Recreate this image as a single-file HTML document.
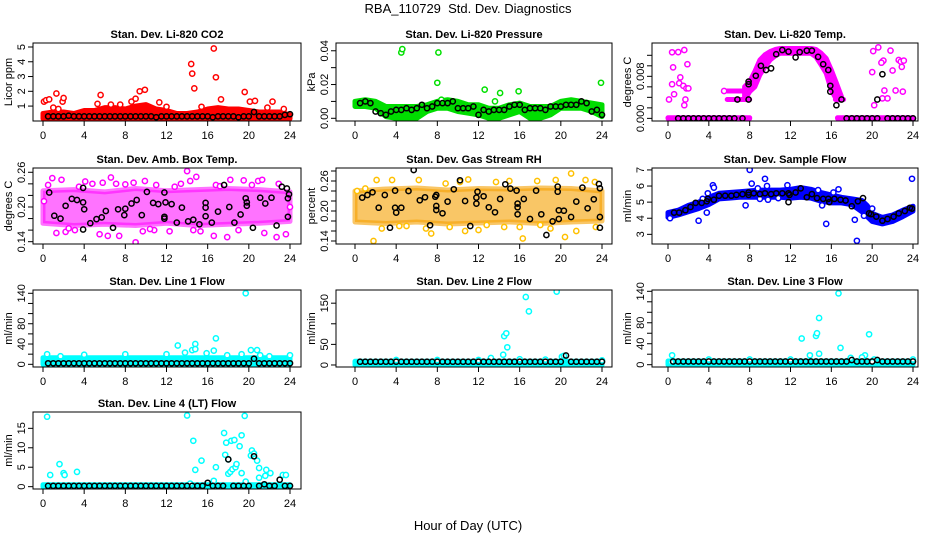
<!DOCTYPE html>
<html><head><meta charset="utf-8">
<style>
html,body{margin:0;padding:0;background:#fff;}
svg{display:block;font-family:"Liberation Sans",sans-serif;}
</style></head>
<body>
<svg id="chart" width="936" height="540" viewBox="0 0 936 540" xmlns="http://www.w3.org/2000/svg">
<rect x="0" y="0" width="936" height="540" fill="#fff"/>
<text x="468" y="13" text-anchor="middle" font-size="13" style="white-space:pre">RBA_110729  Std. Dev. Diagnostics</text>
<text x="468" y="530" text-anchor="middle" font-size="13">Hour of Day (UTC)</text>
</svg>
<script>
// shared half-hour categories for black series
const BH = [0.5,1,1.5,2,2.5,3,3.5,4,4.5,5,5.5,6,6.5,7,7.5,8,8.5,9,9.5,10,10.5,11,11.5,12,12.5,13,13.5,14,14.5,15,15.5,16,16.5,17,17.5,18,18.5,19,19.5,20,20.5,21,21.5,22,22.5,23,23.5,24];
const xTicks = [0,4,8,12,16,20,24];

// P1 CO2
const p1BandH = [0,1,2,3,4,5,6,7,8,9,10,11,12,13,14,15,16,17,18,19,20,21,22,23,24];
const p1BandLo = [0.15,0.15,0.15,0.15,0.15,0.15,0.15,0.15,0.15,0.15,0.15,0.15,0.15,0.15,0.15,0.15,0.15,0.15,0.15,0.15,0.15,0.15,0.15,0.15,0.15];
const p1BandHi = [0.5,0.6,0.6,0.5,0.7,0.7,0.9,0.9,0.8,1.0,1.1,0.8,0.7,0.5,0.5,0.6,0.8,0.9,0.8,0.8,0.7,0.6,0.6,0.6,0.4];
const p1OutH = [0.1,0.3,0.6,1.0,1.3,1.5,1.9,2.0,5.6,6.6,8.6,9.0,9.4,9.9,11.3,12.0,14.4,14.5,14.7,15.4,16.6,16.8,17.3,19.6,20.1,20.6,22.3,21.8,23.4,5.3,7.5];
const p1OutV = [1.3,1.4,1.45,0.9,1.85,0.8,1.3,1.55,1.75,1.1,1.3,1.5,2.0,2.1,1.25,0.95,3.85,3.2,2.2,0.95,4.9,2.95,1.45,1.95,1.3,1.35,1.3,0.9,0.8,1.15,1.1];
const p1BlkV = [0.3,0.3,0.3,0.3,0.35,0.3,0.3,0.3,0.3,0.3,0.3,0.3,0.3,0.3,0.3,0.3,0.3,0.3,0.3,0.3,0.3,0.25,0.3,0.3,0.3,0.3,0.3,0.3,0.3,0.3,0.3,0.3,0.25,0.3,0.3,0.3,0.3,0.25,0.3,0.3,0.6,0.3,0.3,0.3,0.3,0.3,0.4,0.45];

// P2 pressure
const p2BandH = [0,1,2,3,4,5,6,7,8,9,10,11,12,13,14,15,16,17,18,19,20,21,22,23,24];
const p2BandLo = [0.007,0.007,0.006,0.001,0,0,0,0.004,0.006,0.006,0.004,0.003,0.002,0,0,0.002,0.004,0,0,0.002,0.006,0.006,0.006,0.004,0.001];
const p2BandHi = [0.010,0.011,0.010,0.007,0.007,0.007,0.007,0.008,0.010,0.011,0.010,0.008,0.008,0.006,0.006,0.008,0.009,0.007,0.007,0.007,0.010,0.011,0.010,0.009,0.008];
const p2OutH = [4.5,4.6,8.1,8.0,12.6,13.6,14.1,15.9,23.9,8.4];
const p2OutV = [0.039,0.041,0.039,0.021,0.017,0.010,0.015,0.016,0.021,0.011];
const p2BlkV = [0.009,0.010,0.009,0.004,0.003,0.002,0.004,0.005,0.005,0.006,0.005,0.006,0.008,0.006,0.007,0.009,0.009,0.009,0.010,0.006,0.006,0.006,0.007,0.002,0.005,0.004,0.005,0.005,0.005,0.007,0.008,0.008,0.005,0.006,0.006,0.006,0.005,0.007,0.007,0.007,0.008,0.008,0.008,0.010,0.009,0.004,0.005,0.002];

// P3 temp
const p3ArchH = [7.5,8,8.5,9,9.5,10,10.5,11,12,13,14,14.5,15,15.5,16,16.5,17];
const p3ArchLo = [0.0036,0.0051,0.0060,0.0083,0.0098,0.0111,0.0119,0.0124,0.0124,0.0124,0.0124,0.0117,0.0102,0.0086,0.0054,0.0036,0.0035];
const p3ArchHi = [0.0060,0.0070,0.0089,0.0111,0.0121,0.0127,0.0131,0.0133,0.0133,0.0133,0.0133,0.0131,0.0124,0.0114,0.0092,0.0067,0.0041];
const p3ZeroAH = [0,8], p3ZeroALo = [0,0], p3ZeroAHi = [0.0001,0.0001];
const p3ZeroBH = [16.6,24], p3ZeroBLo = [0,0], p3ZeroBHi = [0.0001,0.0001];
const p3FlatAH = [5.8,8], p3FlatALo = [0.0036,0.0036], p3FlatAHi = [0.0036,0.0036];
const p3FlatBH = [16.4,17.2], p3FlatBLo = [0.0036,0.0036], p3FlatBHi = [0.0036,0.0036];
const p3FlatCH = [5.8,7.6], p3FlatCLo = [0.0052,0.0052], p3FlatCHi = [0.0052,0.0052];
const p3OutH = [0.4,0.5,0.4,0.6,0.1,1.0,1.2,1.1,1.6,1.5,1.8,1.9,2.0,1.7,1.6,5.5,20.2,20.0,20.1,20.6,21.0,21.1,21.2,21.5,21.8,22.0,22.3,22.6,22.8,23.1,23.0,21.0,20.9,22.9];
const p3OutV = [0.01257,0.0097,0.0065,0.0046,0.0036,0.0126,0.0078,0.0067,0.0130,0.0062,0.0057,0.0103,0.0057,0.0036,0.0025,0.0052,0.0025,0.0088,0.0128,0.0135,0.0108,0.0110,0.0053,0.0038,0.0129,0.0091,0.0053,0.0111,0.0108,0.0110,0.0051,0.0038,0.0106,0.0098];
const p3BlkH = [1,1.5,2,2.5,3,3.5,4,4.5,5,5.5,6,6.5,7.3,17.5,18,18.5,19,19.5,20,20.5,21.5,22,22.5,23,23.5,24,6.8,7.9,7.9,7.9,8.6,9.1,9.6,10.1,10.6,11.2,11.8,12.5,12.9,13.6,14.1,14.7,15.2,15.7,15.9,15.9,16.5,17.0,21.0,20.5];
const p3BlkV = [0,0,0,0,0,0,0,0,0,0,0,0,0,0,0,0,0,0,0,0,0,0,0,0,0,0,0.0036,0.0036,0.0070,0.0065,0.0081,0.0100,0.0092,0.0095,0.0122,0.0130,0.0127,0.0116,0.0126,0.0129,0.0129,0.0117,0.0103,0.0092,0.0062,0.0051,0.0025,0.0036,0.0084,0.0036];

// P4 amb box temp
const p4BandH = [0,3,6,9,12,15,18,21,24];
const p4BandLo = [0.172,0.168,0.170,0.168,0.172,0.168,0.170,0.172,0.175];
const p4BandHi = [0.228,0.230,0.226,0.232,0.228,0.230,0.232,0.230,0.226];
const p4OutH = [0.9,1.8,4.1,6.6,8.0,9.9,14.0,14.3,14.9,18.2,19.5,20.9,21.3,5.8,1.3,2.2,3.1,5.5,6.3,7.4,9.0,9.7,10.8,12.3,14.6,16.6,17.9,21.5,22.7,23.6,0.5,3.5,12.8,16.8,22.9,7.1,11.0,2.5,15.3,19.0,0.1,24.0,4.8,8.8,13.4,17.2,20.3,10.4];
const p4OutV = [0.250,0.247,0.244,0.251,0.239,0.245,0.262,0.245,0.252,0.247,0.246,0.245,0.247,0.242,0.155,0.157,0.160,0.153,0.150,0.150,0.139,0.158,0.160,0.158,0.160,0.150,0.148,0.155,0.148,0.153,0.238,0.235,0.235,0.238,0.240,0.240,0.238,0.163,0.158,0.160,0.210,0.200,0.240,0.242,0.240,0.236,0.238,0.162];
const p4BlkH = [0.6,1.1,1.7,2.2,2.8,3.3,3.9,3.9,3.9,4.0,4.6,5.2,5.7,6.1,6.8,7.3,7.9,8.0,8.6,9.1,9.6,10.1,10.7,11.2,11.8,11.8,11.8,11.9,12.5,13.0,13.5,14.1,14.6,15.2,15.8,15.8,15.8,16.4,17.0,17.6,18.1,18.6,19.2,19.7,19.8,19.8,20.4,21.1,21.6,22.2,22.7,23.2,23.7,23.8,23.9,23.8];
const p4BlkV = [0.225,0.185,0.180,0.202,0.214,0.212,0.233,0.208,0.161,0.196,0.172,0.179,0.182,0.193,0.164,0.196,0.186,0.197,0.206,0.212,0.186,0.226,0.207,0.205,0.225,0.180,0.183,0.208,0.205,0.173,0.199,0.175,0.178,0.170,0.207,0.199,0.184,0.173,0.192,0.238,0.200,0.173,0.187,0.215,0.202,0.208,0.164,0.216,0.206,0.216,0.168,0.235,0.232,0.215,0.222,0.183];

// P5 gas stream RH
const p5BandH = [0,3,6,9,12,15,18,21,24];
const p5BandLo = [0.178,0.175,0.178,0.174,0.176,0.178,0.175,0.178,0.180];
const p5BandHi = [0.240,0.244,0.246,0.242,0.245,0.244,0.246,0.245,0.240];
const p5OutH = [1.8,2.1,3.6,7.4,10.7,11.0,12.0,13.7,15.0,16.3,17.7,19.5,20.4,21.0,22.4,23.3,21.5,8.8,0.2,1.0,4.3,6.2,9.2,14.5,18.0,23.4,5.0,12.8,16.0,2.6,6.9,10.2,19.0];
const p5OutV = [0.140,0.262,0.262,0.155,0.160,0.263,0.162,0.258,0.260,0.145,0.260,0.262,0.148,0.275,0.262,0.258,0.160,0.255,0.240,0.245,0.170,0.262,0.168,0.168,0.172,0.168,0.170,0.172,0.168,0.165,0.165,0.258,0.165];
const p5BlkH = [0.7,1.2,1.7,2.3,2.9,3.4,3.9,3.9,4.0,4.5,5.2,5.7,6.3,6.8,7.3,7.8,7.9,7.9,7.9,8.5,9.0,9.6,10.2,10.7,11.2,11.8,11.8,11.9,12.5,13.0,13.6,14.1,14.6,15.1,15.7,15.8,15.8,15.8,16.4,17.0,17.6,18.1,18.6,19.2,19.7,19.7,19.8,19.8,20.3,21.0,21.5,22.1,22.6,23.2,23.7,23.8,23.8,23.8];
const p5BlkV = [0.2267,0.232,0.2373,0.2067,0.232,0.1667,0.2407,0.2067,0.1967,0.2067,0.24,0.282,0.2213,0.2273,0.1713,0.2287,0.232,0.21,0.202,0.1953,0.2187,0.2433,0.2613,0.22,0.17,0.2267,0.2147,0.2387,0.2293,0.2073,0.1973,0.224,0.2533,0.2447,0.2407,0.2147,0.2073,0.1933,0.224,0.184,0.2407,0.1933,0.152,0.1793,0.2487,0.2387,0.2013,0.184,0.2007,0.188,0.2187,0.2467,0.2053,0.2233,0.254,0.2453,0.188,0.1667];

// P6 sample flow
const p6BandH = [0,1,2,3,4,5,6,7,8,9,10,11,12,13,14,15,16,17,18,19,19.5,20,21,22,23,24];
const p6BandLo = [4.05,4.2,4.4,4.6,4.85,5.2,5.25,5.3,5.3,5.3,5.3,5.3,5.25,5.3,5.25,5.05,4.95,4.95,4.85,4.4,4.1,3.8,3.65,3.8,4.1,4.45];
const p6BandHi = [4.35,4.5,4.8,5.0,5.3,5.55,5.6,5.65,5.7,5.75,5.75,5.75,5.8,5.9,5.8,5.6,5.45,5.3,5.2,5.1,4.8,4.3,4.05,4.2,4.5,4.75];
const p6OutH = [0.2,3.0,3.8,3.9,4.4,4.5,3.4,7.6,8.0,8.2,8.8,9.5,9.7,9.8,9.0,11.7,14.7,15.1,15.5,16.2,16.7,18.3,18.5,19.2,20.0,23.9,10.8];
const p6OutV = [4.0,3.85,4.35,5.55,6.05,5.9,5.2,4.8,7.0,6.15,5.85,6.45,6.0,5.15,5.2,6.05,5.75,4.8,3.65,5.6,5.8,3.9,2.6,4.15,4.6,6.45,5.25];
const p6BlkH = [0.6,1.1,1.7,2.2,2.7,3.3,3.8,3.9,4.5,5.0,5.6,6.2,6.7,7.3,7.9,7.9,8.4,9.0,9.5,10.1,10.6,11.2,11.8,11.8,11.9,12.5,13.0,13.6,14.1,14.6,15.2,15.7,15.8,16.3,16.9,17.4,18.0,18.6,19.1,19.7,19.9,20.4,21.0,21.5,22.1,22.6,23.2,23.7,23.9];
const p6BlkV = [4.35,4.35,4.5,4.7,4.95,4.95,5.05,5.2,5.15,5.4,5.4,5.4,5.45,5.5,5.6,5.45,5.55,5.5,5.55,5.5,5.55,5.55,5.55,5.0,5.45,5.6,5.85,5.3,5.5,5.25,5.2,5.2,5.0,5.2,5.15,5.1,4.75,5.05,5.25,4.3,4.25,4.1,3.85,3.95,4.1,4.3,4.45,4.65,4.6];

// P7 line 1
const p7BandH = [0,24], p7BandLo = [0,0], p7BandHi = [13,13];
const p7OutH = [0.4,1.7,4.0,8.0,12.0,13.1,13.8,14.5,14.8,14.8,15.9,16.6,16.8,17.9,19.7,20.2,20.8,21.1,22.0,24.0,19.3];
const p7OutV = [20,16,19,20,20,37,23,28,40,30,22,27,51,18,140,28,28,18,16,18,20];
const p7BlkV = [2,2,2,2,2,2,2,2,2,2,2,2,2,2,2,2,2,2,2,2,2,2,2,2,2,2,2,2,2,2,2,2,2,2,2,2,2,2,2,2,11,2,2,2,2,2,2,2];

// P8 line 2
const p8BandH = [0,24], p8BandLo = [0,0], p8BandHi = [9,9];
const p8OutH = [14.5,14.7,14.8,14.4,16.6,16.9,19.6,13.2,18.5,20.1,20.3,12.0,4.0,8.0,24.0,16.0];
const p8OutV = [70,77,43,25,165,130,178,17,13,20,22,12,12,12,11,14];
const p8BlkV = [8,8,8,8,8,8,8,8,8,8,8,8,8,8,8,8,8,8,8,8,8,8,8,8,8,8,8,8,8,8,8,8,8,8,8,8,8,8,8,8,23,8,8,8,8,8,8,8];

// P9 line 3
const p9BandH = [0,24], p9BandLo = [0,0], p9BandHi = [7,7];
const p9OutH = [0.3,0.4,4.0,8.0,12.0,13.1,13.9,14.5,14.6,14.8,14.8,16.7,16.9,17.9,19.3,19.7,19.0,20.2,24.0,20.0];
const p9OutV = [5,18,10,10,10,50,18,55,60,21,89,136,32,13,18,58,14,10,10,5];
const p9BlkV = [6,6,6,6,6,6,6,6,6,6,6,6,6,6,6,6,6,6,6,6,6,6,6,6,6,6,6,6,6,6,6,6,6,6,6,9,6,6,6,6,9,6,6,6,6,6,6,6];

// P10 line 4
const p10BandH = [0,24], p10BandLo = [0,0], p10BandHi = [0.5,0.5];
const p10OutH = [0.4,0.7,1.6,2.0,2.1,3.3,14.0,14.6,14.8,15.4,16.8,16.6,17.6,17.7,17.8,18.0,18.2,18.3,18.4,18.6,18.7,18.8,19.1,19.3,19.3,19.6,19.7,20.2,20.3,20.5,20.8,21.0,21.0,21.6,21.7,22.1,23.3,23.6,14.3,18.0];
const p10OutV = [18,3,5.8,3.5,3,3.8,18.3,11.8,4.3,6.7,5,1.5,13.8,8.2,11.3,3.3,3.8,11.8,4.5,12,5,5.8,10.4,13.2,3.5,18.2,1.3,8,9.3,8.5,6.7,4.8,2.3,2.8,4.3,3.5,3,3,0.8,7];
const p10BlkV = [0.2,0.2,0.2,0.2,0.2,0.2,0.2,0.2,0.2,0.2,0.2,0.2,0.2,0.2,0.2,0.2,0.2,0.2,0.2,0.2,0.2,0.2,0.2,0.2,0.2,0.2,0.2,0.2,0.2,0.2,0.2,1,0.2,0.2,0.2,7,0.2,0.2,0.2,0.2,7.8,0.2,0.6,0.2,0.2,1.8,0.2,0.2];

const cols = [{l:33,r:301,x0:43,x24:290},{l:336,r:612,x0:355,x24:602},{l:652,r:918,x0:668,x24:913}];
const rows = [{t:43,b:121},{t:168,b:244},{t:290,b:367},{t:412,b:489}];

const panels = [
 {name:'co2',title:'Stan. Dev. Li-820 CO2',ylab:'Licor ppm',c:0,r:0,ymin:-0.01,ymax:5.27,ticks:[1,2,3,4,5],labels:['1','2','3','4','5'],col:'#ff0000',band:'#ff0000',op:1,
  bands:[[p1BandH,p1BandLo,p1BandHi]],outH:p1OutH,outV:p1OutV,blkH:BH,blkV:p1BlkV},
 {name:'pressure',title:'Stan. Dev. Li-820 Pressure',ylab:'kPa',c:1,r:0,ymin:-0.0016,ymax:0.0446,ticks:[0,0.01,0.02,0.03,0.04],labels:['0.00','','0.02','','0.04'],col:'#00e000',band:'#00dd00',op:1,
  bands:[[p2BandH,p2BandLo,p2BandHi]],outH:p2OutH,outV:p2OutV,blkH:BH,blkV:p2BlkV},
 {name:'temp',title:'Stan. Dev. Li-820 Temp.',ylab:'degrees C',c:2,r:0,ymin:-0.0005,ymax:0.01434,ticks:[0,0.002,0.004,0.006,0.008,0.010,0.012],labels:['0.000','','','','0.008','',''],col:'#ff00ff',band:'#ff00ff',op:1,
  bands:[[p3ArchH,p3ArchLo,p3ArchHi],[p3ZeroAH,p3ZeroALo,p3ZeroAHi],[p3ZeroBH,p3ZeroBLo,p3ZeroBHi],[p3FlatAH,p3FlatALo,p3FlatAHi],[p3FlatBH,p3FlatBLo,p3FlatBHi],[p3FlatCH,p3FlatCLo,p3FlatCHi]],outH:p3OutH,outV:p3OutV,blkH:p3BlkH,blkV:p3BlkV},
 {name:'amb-box-temp',title:'Stan. Dev. Amb. Box Temp.',ylab:'degrees C',c:0,r:1,ymin:0.136,ymax:0.2674,ticks:[0.14,0.16,0.18,0.20,0.22,0.24,0.26],labels:['0.14','','','0.20','','','0.26'],col:'#ff00ff',band:'#ff00ff',op:0.55,
  bands:[[p4BandH,p4BandLo,p4BandHi]],outH:p4OutH,outV:p4OutV,blkH:p4BlkH,blkV:p4BlkV},
 {name:'gas-stream-rh',title:'Stan. Dev. Gas Stream RH',ylab:'percent',c:1,r:1,ymin:0.134,ymax:0.286,ticks:[0.14,0.16,0.18,0.20,0.22,0.24,0.26,0.28],labels:['0.14','','','0.20','','','0.26',''],col:'#ffc000',band:'#f5a000',op:0.6,
  bands:[[p5BandH,p5BandLo,p5BandHi]],outH:p5OutH,outV:p5OutV,blkH:p5BlkH,blkV:p5BlkV},
 {name:'sample-flow',title:'Stan. Dev. Sample Flow',ylab:'ml/min',c:2,r:1,ymin:2.4,ymax:7.12,ticks:[3,4,5,6,7],labels:['3','4','5','6','7'],col:'#0000ff',band:'#0000ff',op:1,
  bands:[[p6BandH,p6BandLo,p6BandHi]],outH:p6OutH,outV:p6OutV,blkH:p6BlkH,blkV:p6BlkV},
 {name:'line1-flow',title:'Stan. Dev. Line 1 Flow',ylab:'ml/min',c:0,r:2,ymin:-5.3,ymax:146.5,ticks:[0,20,40,60,80,100,120,140],labels:['0','','40','','80','','','140'],col:'#00ffff',band:'#00ffff',op:1,
  bands:[[p7BandH,p7BandLo,p7BandHi]],outH:p7OutH,outV:p7OutV,blkH:BH,blkV:p7BlkV},
 {name:'line2-flow',title:'Stan. Dev. Line 2 Flow',ylab:'ml/min',c:1,r:2,ymin:-4.9,ymax:182,ticks:[0,50,100,150],labels:['0','50','','150'],col:'#00ffff',band:'#00ffff',op:1,
  bands:[[p8BandH,p8BandLo,p8BandHi]],outH:p8OutH,outV:p8OutV,blkH:BH,blkV:p8BlkV},
 {name:'line3-flow',title:'Stan. Dev. Line 3 Flow',ylab:'ml/min',c:2,r:2,ymin:-4.4,ymax:142.5,ticks:[0,20,40,60,80,100,120,140],labels:['0','','40','','80','','','140'],col:'#00ffff',band:'#00ffff',op:1,
  bands:[[p9BandH,p9BandLo,p9BandHi]],outH:p9OutH,outV:p9OutV,blkH:BH,blkV:p9BlkV},
 {name:'line4-flow',title:'Stan. Dev. Line 4 (LT) Flow',ylab:'ml/min',c:0,r:3,ymin:-0.6,ymax:19.2,ticks:[0,5,10,15],labels:['0','5','10','15'],col:'#00ffff',band:'#00ffff',op:1,
  bands:[[p10BandH,p10BandLo,p10BandHi]],outH:p10OutH,outV:p10OutV,blkH:BH,blkV:p10BlkV}
];

const NS = 'http://www.w3.org/2000/svg';
const svg = document.getElementById('chart');
function mk(tag, attrs, parent){
  const e = document.createElementNS(NS, tag);
  for (const k in attrs) e.setAttribute(k, attrs[k]);
  parent.appendChild(e);
  return e;
}

panels.forEach(p => {
  const C = cols[p.c], R = rows[p.r];
  const xs = h => C.x0 + (h/24)*(C.x24 - C.x0);
  const ys = v => R.b - (v - p.ymin)/(p.ymax - p.ymin)*(R.b - R.t);
  const g = mk('g', {}, svg);
  
  
  const cx = (C.l + C.r)/2;
  const t = mk('text', {x:cx, y:R.t-5, 'text-anchor':'middle', 'font-size':'11', 'font-weight':'bold'}, g);
  t.textContent = p.title;
  
  
  const yl = mk('text', {x:0, y:0, 'text-anchor':'middle', 'font-size':'11', transform:'translate(' + (C.l-21) + ',' + ((R.t+R.b)/2) + ') rotate(-90)'}, g);
  yl.textContent = p.ylab;
  
  
  const cid = 'clip-' + p.name;
  const cp = mk('clipPath', {id:cid}, g);
  mk('rect', {x:C.l, y:R.t, width:C.r-C.l, height:R.b-R.t}, cp);
  const plot = mk('g', {'clip-path':'url(#' + cid + ')'}, g);
  
  
  p.bands.forEach(b => {
    const [H, L, Hi] = b;
    let pts = [];
    for (let i=0;i<H.length;i++) pts.push(xs(H[i]).toFixed(1)+','+ys(Hi[i]).toFixed(1));
    for (let i=H.length-1;i>=0;i--) pts.push(xs(H[i]).toFixed(1)+','+ys(L[i]).toFixed(1));
    const poly = mk('polygon', {points:pts.join(' '), fill:p.band, 'fill-opacity':p.op, stroke:p.band, 'stroke-opacity':p.op, 'stroke-width':'5', 'stroke-linejoin':'round'}, plot);
    
    
  });
  for (let i=0;i<p.outH.length;i++){
    const c = mk('circle', {cx:xs(p.outH[i]).toFixed(1), cy:ys(p.outV[i]).toFixed(1), r:'2.6', fill:'#fff', stroke:p.col, 'stroke-width':'1.5'}, plot);
    
    
  }
  for (let i=0;i<p.blkH.length;i++){
    const c = mk('circle', {cx:xs(p.blkH[i]).toFixed(1), cy:ys(p.blkV[i]).toFixed(1), r:'2.6', fill:'none', stroke:'#000', 'stroke-width':'1.5'}, plot);
    
    
  }
  const box = mk('rect', {x:C.l, y:R.t, width:C.r-C.l, height:R.b-R.t, fill:'none', stroke:'#000', 'stroke-width':'1'}, g);
  
  
  const xa = mk('g', {}, g);
  
  
  mk('line', {x1:xs(xTicks[0]), x2:xs(xTicks[xTicks.length-1]), y1:R.b, y2:R.b, stroke:'#000'}, xa);
  xTicks.forEach(v => {
    mk('line', {x1:xs(v), x2:xs(v), y1:R.b, y2:R.b+5, stroke:'#000'}, xa);
    const tl = mk('text', {x:xs(v), y:R.b+18, 'text-anchor':'middle', 'font-size':'11'}, xa);
    tl.textContent = String(v);
    
    
  });
  const ya = mk('g', {}, g);
  
  
  mk('line', {x1:C.l, x2:C.l, y1:ys(p.ticks[0]), y2:ys(p.ticks[p.ticks.length-1]), stroke:'#000'}, ya);
  p.ticks.forEach((v, i) => {
    const y = ys(v);
    mk('line', {x1:C.l-5, x2:C.l, y1:y, y2:y, stroke:'#000'}, ya);
    if (p.labels[i]) {
      const tl = mk('text', {x:0, y:0, 'text-anchor':'middle', 'font-size':'11', transform:'translate(' + (C.l-8) + ',' + y.toFixed(1) + ') rotate(-90)'}, ya);
      tl.textContent = p.labels[i];
      
      
    }
  });
});
</script>
</body></html>
